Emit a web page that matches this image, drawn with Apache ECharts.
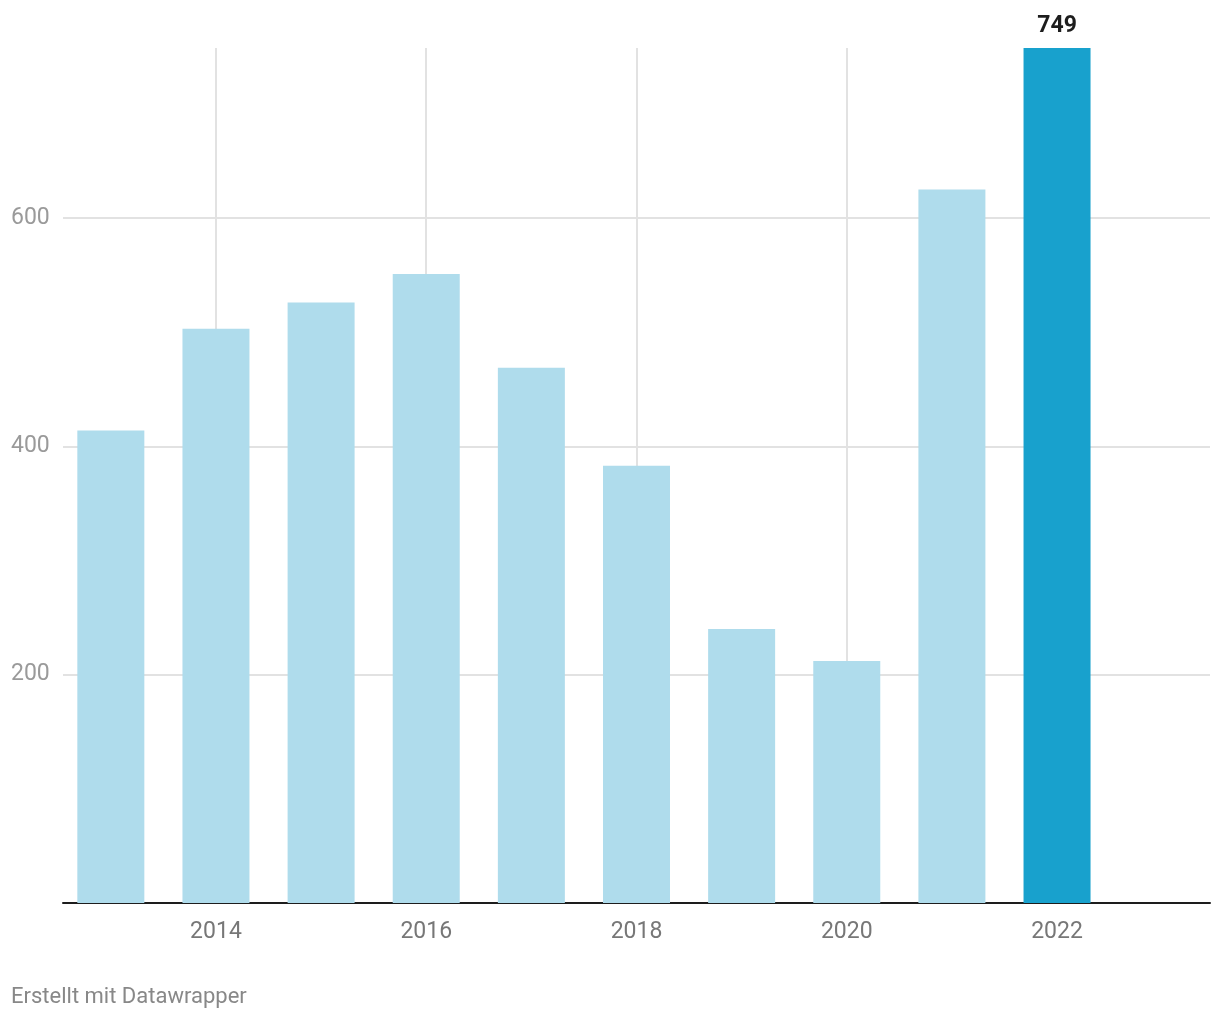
<!DOCTYPE html>
<html>
<head>
<meta charset="utf-8">
<script src="https://cdn.jsdelivr.net/npm/echarts@6/dist/echarts.min.js"></script>
<style>
html,body{margin:0;padding:0;background:#fff;}
#chart{width:1220px;height:1020px;}
</style>
</head>
<body>
<div id="chart"></div>
<script>
var years = [2013, 2014, 2015, 2016, 2017, 2018, 2019, 2020, 2021, 2022];
var values = [414, 503, 526, 551, 469, 383, 240, 212, 625, 749];
var highlightYear = 2022;
var xTickLabels = [2014, 2016, 2018, 2020, 2022];
var yTickLabels = [200, 400, 600];
var footerText = 'Erstellt mit Datawrapper';

var FONT = 'Roboto, "Noto Sans", sans-serif';

var barData = years.map(function (y, i) {
  var item = { value: [y, values[i]] };
  if (y === highlightYear) {
    item.itemStyle = { color: '#18a1cd' };
    item.label = {
      show: true, position: 'top', distance: 10,
      formatter: String(values[i]),
      fontFamily: FONT, fontSize: 23, fontWeight: 'bold', color: '#1d1d1d'
    };
  }
  return item;
});

var gridLines = xTickLabels.map(function (v) { return { xAxis: v }; })
  .concat(yTickLabels.map(function (v) { return { yAxis: v }; }));

var chart = echarts.init(document.getElementById('chart'), null, { renderer: 'canvas' });
chart.setOption({
  animation: false,
  backgroundColor: '#ffffff',
  grid: { left: 63, right: 10, top: 48, bottom: 117, containLabel: false },
  xAxis: {
    type: 'value',
    min: 2012.545,
    max: 2023.455,
    axisLine: { show: true, lineStyle: { color: '#1d1d1d', width: 2 } },
    axisTick: { show: false },
    splitLine: { show: false },
    axisLabel: {
      customValues: xTickLabels,
      formatter: function (v) { return String(Math.round(v)); },
      margin: 18,
      fontFamily: FONT, fontSize: 23, color: '#777777'
    }
  },
  yAxis: {
    type: 'value',
    min: 0,
    max: 749,
    axisLine: { show: false },
    axisTick: { show: false },
    splitLine: { show: false },
    axisLabel: {
      customValues: yTickLabels,
      formatter: function (v) { return String(Math.round(v)); },
      align: 'left',
      margin: 52,
      padding: [4, 0, 0, 0],
      fontFamily: FONT, fontSize: 23, color: '#9a9a9a'
    }
  },
  series: [{
    type: 'bar',
    z: 2,
    barWidth: 67,
    itemStyle: { color: '#afdcec' },
    data: barData,
    markLine: {
      silent: true,
      z: 1,
      symbol: ['none', 'none'],
      label: { show: false },
      lineStyle: { color: '#e2e2e2', width: 2, type: 'solid' },
      emphasis: { disabled: true },
      data: gridLines
    }
  }],
  graphic: [{
    type: 'text',
    left: 11,
    top: 986,
    style: { text: footerText, fontFamily: FONT, fontSize: 22, fill: '#888888' }
  }]
});
</script>
</body>
</html>
